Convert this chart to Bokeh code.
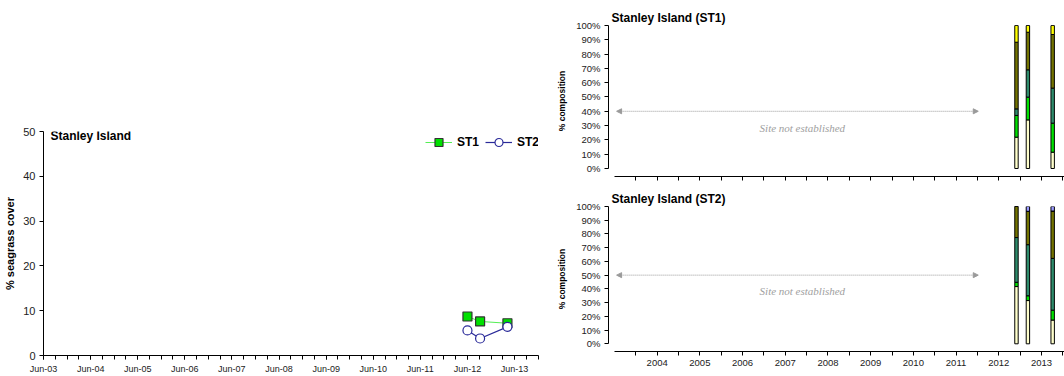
import pandas as pd
from bokeh.embed import file_html
from bokeh.layouts import column, row
from bokeh.models import (Arrow, ColumnDataSource, DatetimeTickFormatter, FixedTicker,
                          Label, Legend, LegendItem, NormalHead, Range1d)
from bokeh.plotting import figure
from bokeh.resources import INLINE

FONT = "Liberation Sans"
SERIF = "Liberation Serif"
INK = "#000000"
TICK_INK = "#222222"

# ---- percentage seagrass cover at Stanley Island ----
survey_dates = ["2012-06-01", "2012-09-07", "2013-04-07"]
st1_cover = [8.7, 7.6, 7.2]
st2_cover = [5.6, 3.8, 6.4]
cover_ticks = [0, 10, 20, 30, 40, 50]
first_label_year = 2003
last_label_year = 2013

# ---- species composition (% of cover), one value per survey ----
species = ["H_ovalis", "H_uninervis", "C_serrulata", "Z_muelleri", "C_rotundata", "H_spinulosa"]
species_colors = ["#FFFFCC", "#00E000", "#2E8B6B", "#737300", "#FFFF00", "#9999FF"]

st1_h_ovalis = [21.9, 34.0, 11.4]
st1_h_uninervis = [15.2, 15.9, 20.3]
st1_c_serrulata = [4.6, 19.1, 24.5]
st1_z_muelleri = [46.6, 26.3, 37.5]
st1_c_rotundata = [11.7, 4.7, 6.3]
st1_h_spinulosa = [0.0, 0.0, 0.0]

st2_h_ovalis = [41.7, 31.5, 17.3]
st2_h_uninervis = [3.1, 3.5, 7.2]
st2_c_serrulata = [32.6, 37.2, 37.7]
st2_z_muelleri = [22.6, 24.3, 34.5]
st2_c_rotundata = [0.0, 0.0, 0.0]
st2_h_spinulosa = [0.0, 3.5, 3.3]

composition_years = list(range(2004, 2014))
percent_ticks = list(range(0, 101, 10))

# span of the "site not established" period (decimal years)
not_established_from = 2003.05
not_established_to = 2011.52


def decimal_year(d):
    t = pd.Timestamp(d)
    start = pd.Timestamp(year=t.year, month=1, day=1)
    end = pd.Timestamp(year=t.year + 1, month=1, day=1)
    return t.year + (t - start) / (end - start)


def ms(d):
    return pd.Timestamp(d).value / 1e6


# ------------------------------------------------------------------ cover
x_start = pd.Timestamp("2003-06-01")
x_end = pd.Timestamp("2013-12-04")
left = figure(width=546, height=376, x_axis_type="datetime",
              x_range=Range1d(x_start, x_end), y_range=Range1d(0, 50),
              output_backend="svg", toolbar_location=None,
              min_border_left=43, min_border_right=8,
              min_border_top=131, min_border_bottom=20)
left.grid.visible = False
left.outline_line_color = None
left.background_fill_color = "white"

dates = pd.to_datetime(survey_dates)
src1 = ColumnDataSource(dict(x=dates, y=st1_cover))
src2 = ColumnDataSource(dict(x=dates, y=st2_cover))
l1 = left.line("x", "y", source=src1, line_color="#55EE55", line_width=1)
m1 = left.scatter("x", "y", source=src1, marker="square", size=9,
                  fill_color="#00E000", line_color="#333333", line_width=1.2)
l2 = left.line("x", "y", source=src2, line_color="#2A2A99", line_width=1.2)
m2 = left.scatter("x", "y", source=src2, marker="circle", size=9,
                  fill_color="white", line_color="#2A2A99", line_width=1.2)

jun_ticks = [ms(f"{y}-06-01") for y in range(first_label_year, last_label_year + 1)]
quarter_ticks = [ms(d) for d in pd.date_range("2003-03-01", "2013-12-31", freq="3MS")]
xa = left.xaxis[0]
xa.ticker = FixedTicker(ticks=jun_ticks, minor_ticks=quarter_ticks)
fmt = "%b-%y"
xa.formatter = DatetimeTickFormatter(days=fmt, months=fmt, years=fmt)
xa.major_tick_out = 4
xa.major_tick_in = 0
xa.minor_tick_out = 4
xa.minor_tick_in = 0
xa.major_label_standoff = 4
xa.major_label_text_font = FONT
xa.major_label_text_font_size = "9px"
xa.major_label_text_color = TICK_INK
xa.axis_line_color = INK
xa.major_tick_line_color = INK
xa.minor_tick_line_color = INK

ya = left.yaxis[0]
ya.ticker = FixedTicker(ticks=cover_ticks, minor_ticks=[])
ya.major_tick_out = 4
ya.major_tick_in = 0
ya.major_label_standoff = 4
ya.major_label_text_font = FONT
ya.major_label_text_font_size = "11px"
ya.major_label_text_color = TICK_INK
ya.axis_line_color = INK
ya.major_tick_line_color = INK
ya.axis_label = "% seagrass cover"
ya.axis_label_text_font = FONT
ya.axis_label_text_font_size = "11px"
ya.axis_label_text_font_style = "bold"
ya.axis_label_text_color = INK
ya.axis_label_standoff = 4

left.add_layout(Label(x=ms(x_start), y=48.9, x_offset=7, text="Stanley Island",
                      text_font=FONT, text_font_size="12px", text_font_style="bold",
                      text_color=INK, text_baseline="middle", text_align="left"))

legend = Legend(items=[LegendItem(label="ST1", renderers=[l1, m1]),
                       LegendItem(label="ST2", renderers=[l2, m2])],
                location=(382, 203), orientation="horizontal",
                glyph_width=27, glyph_height=20, label_height=20, label_standoff=5,
                spacing=6, padding=0, margin=0,
                label_text_font=FONT, label_text_font_size="12px",
                label_text_font_style="bold", label_text_color=INK,
                background_fill_alpha=0, border_line_alpha=0)
left.add_layout(legend)

# ------------------------------------------------------------ composition
survey_years = [decimal_year(d) for d in survey_dates]
X0, X1 = 2002.86, 2013.54
Y0 = -5.6


def composition_figure(title, columns, arrow_y, text_y, border_top, border_bottom, show_years):
    p = figure(width=518, height=188, x_range=Range1d(X0, X1), y_range=Range1d(Y0, 100),
               output_backend="svg", toolbar_location=None,
               min_border_left=62, min_border_right=0,
               min_border_top=border_top, min_border_bottom=border_bottom)
    p.grid.visible = False
    p.outline_line_color = None

    data = dict(x=survey_years)
    data.update(columns)
    src = ColumnDataSource(data)
    p.vbar_stack(species, x="x", width=0.08, source=src, color=species_colors,
                 line_color="black", line_width=1)

    head = dict(size=5, fill_color="#9A9A9A", line_color="#9A9A9A", line_width=1)
    p.add_layout(Arrow(start=NormalHead(**head), end=NormalHead(**head),
                       x_start=not_established_from, y_start=arrow_y,
                       x_end=not_established_to, y_end=arrow_y,
                       line_color="#9A9A9A", line_width=1, line_dash="1 1"))
    p.add_layout(Label(x=2007.4, y=text_y, text="Site not established",
                       text_font=SERIF, text_font_style="italic", text_font_size="11px",
                       text_color="#A0A0A0", text_align="center", text_baseline="middle"))

    p.title.text = title
    p.title.align = "left"
    p.title.offset = 3
    p.title.standoff = 2
    p.title.text_font = FONT
    p.title.text_font_size = "12px"
    p.title.text_font_style = "bold"
    p.title.text_color = INK

    xa = p.xaxis[0]
    xa.bounds = (2003.0, X1)
    xa.ticker = FixedTicker(ticks=composition_years,
                            minor_ticks=[y + 0.5 for y in range(2003, 2014)])
    if show_years:
        xa.major_label_overrides = {y: str(y) for y in composition_years}
    else:
        xa.major_label_overrides = {y: "" for y in composition_years}
    xa.major_tick_out = 4
    xa.major_tick_in = 0
    xa.minor_tick_out = 4
    xa.minor_tick_in = 0
    xa.axis_line_color = INK
    xa.major_tick_line_color = INK
    xa.minor_tick_line_color = INK
    xa.major_label_standoff = 4
    xa.major_label_text_font = FONT
    xa.major_label_text_color = TICK_INK
    xa.major_label_text_font_size = "9.5px"

    ya = p.yaxis[0]
    ya.bounds = (0, 100)
    ya.ticker = FixedTicker(ticks=percent_ticks, minor_ticks=[])
    ya.major_label_overrides = {v: f"{v}%" for v in percent_ticks}
    ya.major_tick_out = 4
    ya.major_tick_in = 0
    ya.major_label_standoff = 4
    ya.major_label_text_font = FONT
    ya.major_label_text_font_size = "9.5px"
    ya.major_label_text_color = TICK_INK
    ya.axis_line_color = INK
    ya.major_tick_line_color = INK
    ya.axis_label = "% composition"
    ya.axis_label_text_font = FONT
    ya.axis_label_text_font_size = "8.5px"
    ya.axis_label_text_font_style = "bold"
    ya.axis_label_text_color = INK
    ya.axis_label_standoff = 6
    return p


st1_columns = dict(zip(species, [st1_h_ovalis, st1_h_uninervis, st1_c_serrulata,
                                 st1_z_muelleri, st1_c_rotundata, st1_h_spinulosa]))
st2_columns = dict(zip(species, [st2_h_ovalis, st2_h_uninervis, st2_c_serrulata,
                                 st2_z_muelleri, st2_c_rotundata, st2_h_spinulosa]))

top = composition_figure("Stanley Island (ST1)", st1_columns, 40, 28.1, 25, 12, False)
bottom = composition_figure("Stanley Island (ST2)", st2_columns, 50, 38.8, 13, 25, True)

layout = row(left, column(top, bottom, spacing=0), spacing=0)

with open("out.html", "w") as f:
    f.write(file_html(layout, INLINE))
